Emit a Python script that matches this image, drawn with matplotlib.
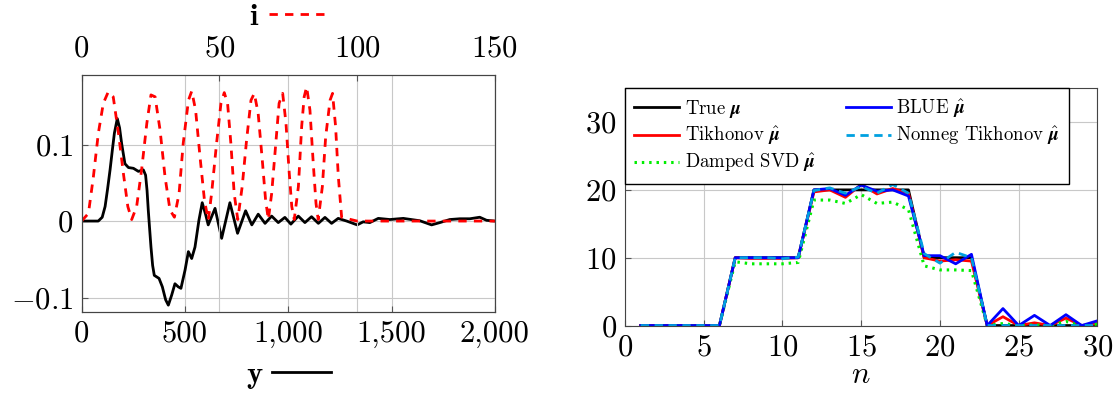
import numpy as np
import matplotlib
matplotlib.use("Agg")
import matplotlib.pyplot as plt
from matplotlib.ticker import FuncFormatter

plt.rcParams['font.family'] = 'serif'
plt.rcParams['font.serif'] = ['cmr10', 'DejaVu Serif']
plt.rcParams['mathtext.fontset'] = 'cm'
plt.rcParams['axes.formatter.use_mathtext'] = True
plt.rcParams['axes.unicode_minus'] = True

# left panel: measured output y (bottom axis) and input i (top axis)
y_t = [0, 81, 100, 114, 126, 138, 150, 159, 173, 184, 194, 210, 227, 251, 275, 299,
       310, 317, 323, 330, 336, 344, 352, 375, 391, 407, 420, 436, 452, 468, 481, 501,
       517, 533, 549, 568, 584, 601, 613, 646, 678, 718, 755, 794, 824, 855, 888, 920,
       952, 984, 1013, 1049, 1081, 1113, 1146, 1178, 1210, 1242, 1283, 1334, 1363,
       1395, 1436, 1492, 1557, 1637, 1694, 1734, 1782, 1831, 1879, 1927, 1960, 2000]
y_val = [0, 0, 0.005, 0.019, 0.042, 0.067, 0.095, 0.115, 0.134, 0.122, 0.1015, 0.075,
         0.070, 0.069, 0.065, 0.067, 0.060, 0.040, 0.014, -0.012, -0.034, -0.058,
         -0.071, -0.075, -0.086, -0.103, -0.110, -0.097, -0.082, -0.086, -0.088,
         -0.064, -0.040, -0.049, -0.034, 0.001, 0.024, 0.008, -0.005, 0.0166, -0.0226,
         0.024, -0.016, 0.0135, -0.005, 0.009, -0.003, 0.0065, -0.002, 0.0048, -0.004,
         0.0065, -0.002, 0.0057, -0.003, 0.0048, -0.003, 0.0035, 0.0, -0.005, -0.001,
         -0.002, 0.0035, 0.002, 0.0035, 0.0004, -0.005, -0.002, 0.002, 0.003, 0.003,
         0.005, 0.001, 0.0]

i_t = [0, 2.5, 4.3, 6.1, 7.9, 9.7, 11.5, 13.4, 15.2, 16.8, 18.2, 20.0, 21.8, 23.7,
       25.2, 26.7, 28.5, 30.3, 32.1, 33.7, 35.4, 36.9, 38.8, 40.0, 41.4, 43.0, 44.6,
       46.0, 47.2, 49.0, 50.6, 51.8, 53.0, 54.2, 55.4, 56.7, 58.3, 59.9, 61.5, 62.7,
       64.1, 65.6, 66.8, 67.8, 69.0, 70.5, 71.7, 73.0, 74.2, 75.3, 76.3, 77.2, 78.7,
       79.9, 80.8, 81.7, 82.9, 84.1, 85.1, 85.9, 87.4, 88.6, 90.2, 91.1, 92.2, 93.2,
       94.4, 100, 150]
i_val = [0, 0.010, 0.058, 0.115, 0.154, 0.169, 0.1625, 0.115, 0.062, 0.019, 0.002,
         0.019, 0.067, 0.128, 0.165, 0.1625, 0.119, 0.058, 0.0144, 0.005, 0.036, 0.1015,
         0.158, 0.170, 0.145, 0.084, 0.0275, 0.001, 0.036, 0.1015, 0.154, 0.168, 0.154,
         0.1015, 0.036, 0.002, 0.045, 0.106, 0.158, 0.167, 0.141, 0.0797, 0.0275, 0.002,
         0.036, 0.1015, 0.154, 0.167, 0.128, 0.067, 0.019, 0.002, 0.045, 0.124, 0.1625,
         0.1756, 0.145, 0.0754, 0.023, 0.002, 0.045, 0.110, 0.158, 0.167, 0.124, 0.058,
         0.005, 0.0, 0.0]

# right panel: estimates of mu
n = np.arange(1, 31)
mu_true = [0, 0, 0, 0, 0, 0, 10, 10, 10, 10, 10, 20, 20, 20, 20, 20, 20, 20,
           10, 10, 10, 10, 0, 0, 0, 0, 0, 0, 0, 0]
mu_tik = [0, 0, 0, 0, 0, 0, 10, 9.9, 9.9, 9.9, 10, 19.7, 20, 18.9, 20.8, 19.4, 20.2,
          19.5, 10, 9.5, 9.7, 9.5, 0, 1.3, 0, 0.4, 0, 1.1, 0, 0.3]
mu_blue = [0, 0, 0, 0, 0, 0, 10, 10, 10, 10, 10, 20, 20.2, 19.2, 20.7, 19.8, 20,
           19.1, 10.3, 10.3, 9.1, 10.5, 0, 2.5, 0, 1.5, 0, 1.6, 0, 0.7]
mu_svd = [0, 0, 0, 0, 0, 0, 9.4, 9.1, 9.1, 9.1, 9.3, 18.5, 18.5, 18, 19.3, 18, 18.2,
          17.1, 8.8, 8.2, 8.2, 8.1, 0, 0.3, 0, 0.1, 0, 0.6, 0, 0.2]
mu_nonneg = [0, 0, 0, 0, 0, 0, 10, 10, 10, 9.85, 10.1, 19.9, 20.3, 19.5, 20.5, 19.5,
             20.8, 19.5, 10.6, 9.2, 10.8, 10, 0, 0, 0, 0, 0, 0, 0, 0]

fig = plt.figure(figsize=(11.17, 3.97), dpi=100)
grid_c = '#c8c8c8'
tick_fs = 22

# ---- left
ax = fig.add_axes([0.073, 0.214, 0.370, 0.597])
ax2 = ax.twiny()
ly, = ax.plot(y_t, y_val, color='black', lw=2.0)
li, = ax2.plot(i_t, i_val, color='red', lw=2.0, ls=(0, (3, 2.6)))
ax.set_xlim(0, 2000)
ax.set_ylim(-0.119, 0.191)
ax2.set_xlim(0, 150)
ax.set_xticks([0, 500, 1000, 1500, 2000])
ax.set_yticks([-0.1, 0, 0.1])
ax2.set_xticks([0, 50, 100, 150])
ax.xaxis.set_major_formatter(FuncFormatter(lambda v, p: f"{v:,.0f}"))
ax.yaxis.set_major_formatter(FuncFormatter(lambda v, p: "$0$" if v == 0 else f"${v:.1f}$"))
ax.grid(True, color=grid_c, lw=0.8)
ax2.grid(True, axis='x', color=grid_c, lw=0.8)
ax.set_axisbelow(True)
for a in (ax, ax2):
    a.tick_params(direction='in', length=4, color='#555555', labelsize=tick_fs, pad=6)
    for s in a.spines.values():
        s.set_color('#444444')
ax2.tick_params(pad=9)

ax2.legend([li], [r'$\mathbf{i}$'], loc='center', bbox_to_anchor=(0.5, 1.245),
           frameon=False, markerfirst=False, fontsize=22, handlelength=1.9,
           handletextpad=0.3)
ax.legend([ly], [r'$\mathbf{y}$'], loc='center', bbox_to_anchor=(0.5, -0.27),
          frameon=False, markerfirst=False, fontsize=22, handlelength=1.9,
          handletextpad=0.3)

# ---- right
bx = fig.add_axes([0.5595, 0.180, 0.423, 0.598])
bx.plot(n, mu_true, color='black', lw=2.0, label=r'True $\boldsymbol{\mu}$')
bx.plot(n, mu_tik, color='red', lw=2.0, label=r'Tikhonov $\hat{\boldsymbol{\mu}}$')
bx.plot(n, mu_svd, color='#00ee00', lw=2.2, ls=(0, (0.8, 1.6)),
        label=r'Damped SVD $\hat{\boldsymbol{\mu}}$')
bx.plot(n, mu_blue, color='blue', lw=2.0, label=r'BLUE $\hat{\boldsymbol{\mu}}$')
bx.plot(n, mu_nonneg, color='#00a0e0', lw=2.0, ls=(0, (3, 2)),
        label=r'Nonneg Tikhonov $\hat{\boldsymbol{\mu}}$')
bx.set_xlim(0, 30)
bx.set_ylim(0, 35)
bx.set_xticks([0, 5, 10, 15, 20, 25, 30])
bx.set_yticks([0, 10, 20, 30])
bx.grid(True, color=grid_c, lw=0.8)
bx.set_axisbelow(True)
bx.tick_params(direction='in', length=4, color='#555555', labelsize=tick_fs, pad=6)
for s in bx.spines.values():
    s.set_color('#444444')
bx.set_xlabel(r'$n$', fontsize=22, labelpad=0)
leg = bx.legend(loc='upper left', bbox_to_anchor=(0, 1), borderaxespad=0, ncol=2,
                fontsize=13.5, handlelength=2.4, handletextpad=0.3, columnspacing=1.6,
                fancybox=False, framealpha=1, edgecolor='black', borderpad=0.5,
                labelspacing=0.25)
leg.get_frame().set_linewidth(1.0)

fig.savefig('out.png', dpi=100)
